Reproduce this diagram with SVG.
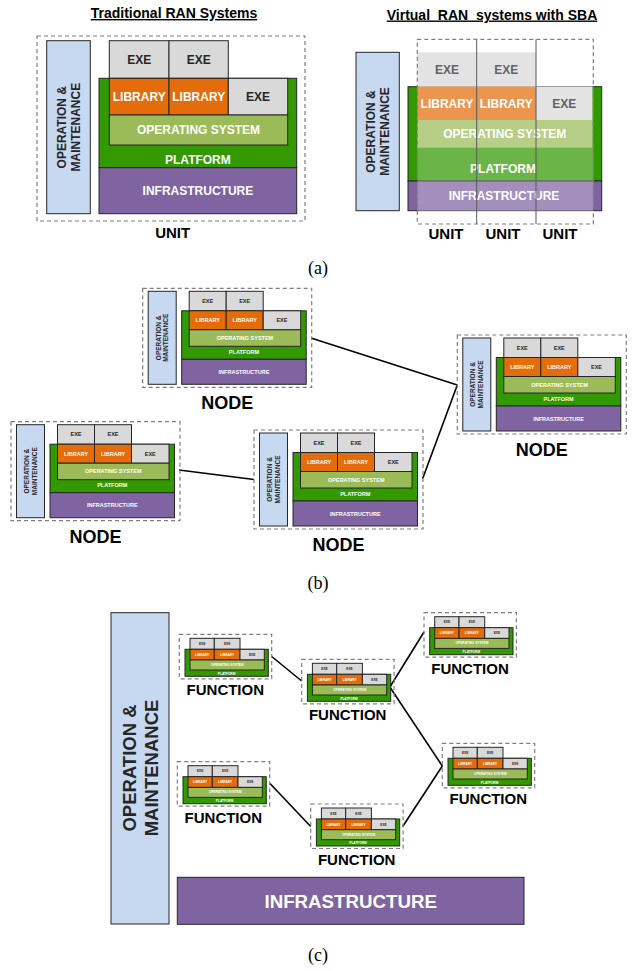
<svg xmlns="http://www.w3.org/2000/svg" xmlns:xlink="http://www.w3.org/1999/xlink" width="635" height="971" viewBox="0 0 635 971">
<style>
.om{fill:#c6d9f1;stroke:#262626;stroke-width:1}
.exe{fill:#d9d9d9;stroke:#262626;stroke-width:1}
.lib{fill:#e46c0a;stroke:#262626;stroke-width:1}
.os{fill:#9bbb59;stroke:#262626;stroke-width:1}
.plat{fill:#339900;stroke:#262626;stroke-width:1}
.inf{fill:#8064a2;stroke:#262626;stroke-width:1}
.nb{stroke:none}
.dash{fill:none;stroke:#7f7f7f;stroke-width:1.2;stroke-dasharray:4 3}
.t{font-family:"Liberation Sans",Arial,sans-serif;font-weight:bold;text-anchor:middle}
.w{fill:#ffffff}
.k{fill:#262626}
.cap{font-family:"Liberation Serif","Times New Roman",serif;font-size:18px;text-anchor:middle;fill:#000}
.conn{stroke:#000;stroke-width:1.6;fill:none}
.div{stroke:#595959;stroke-width:1}
</style>
<defs>
<g id="nodeT">
<rect class="dash" x="0" y="0" width="169" height="99"/>
<rect class="om" x="5.5" y="3" width="28" height="93"/>
<rect class="plat" x="39" y="22.5" width="124.5" height="48.5"/>
<rect class="inf" x="39" y="71" width="124.5" height="25"/>
<rect class="exe" x="46.5" y="3" width="37" height="19.5"/>
<rect class="exe" x="83.5" y="3" width="37" height="19.5"/>
<rect class="lib" x="46.5" y="22.5" width="37" height="19"/>
<rect class="lib" x="83.5" y="22.5" width="37" height="19"/>
<rect class="exe" x="120.5" y="22.5" width="37.5" height="19"/>
<rect class="os" x="46.5" y="41.5" width="111.5" height="16.5"/>
<g class="t" font-size="5.5">
<text class="k" x="65" y="14.7">EXE</text>
<text class="k" x="102" y="14.7">EXE</text>
<text class="w" x="65" y="34">LIBRARY</text>
<text class="w" x="102" y="34">LIBRARY</text>
<text class="k" x="139.25" y="34">EXE</text>
<text class="w" x="102.25" y="51.7">OPERATING SYSTEM</text>
<text class="w" x="101.25" y="65.5">PLATFORM</text>
<text class="w" x="101.25" y="85.5">INFRASTRUCTURE</text>
</g>
<text class="t k" font-size="6.5" transform="translate(19.5,49.5) rotate(-90)"><tspan x="0" y="-1.4">OPERATION &amp;</tspan><tspan x="0" y="6.1">MAINTENANCE</tspan></text>
<text class="t" font-size="18" fill="#000" x="84.5" y="121">NODE</text>
</g>
<g id="fnT">
<rect class="dash" x="0" y="0" width="92.4" height="44.5"/>
<rect class="plat" x="5.7" y="15" width="83.3" height="27"/>
<rect class="exe" x="10.7" y="4" width="24.3" height="11"/>
<rect class="exe" x="35" y="4" width="25.7" height="11"/>
<rect class="lib" x="10.7" y="15" width="24.3" height="10.7"/>
<rect class="lib" x="35" y="15" width="25.7" height="10.7"/>
<rect class="exe" x="60.7" y="15" width="24.3" height="10.7"/>
<rect class="os" x="10.7" y="25.7" width="74.3" height="10"/>
<g class="t" font-size="3.2">
<text class="k" x="22.85" y="10.6">EXE</text>
<text class="k" x="47.85" y="10.6">EXE</text>
<text class="w" x="22.85" y="21.5">LIBRARY</text>
<text class="w" x="47.85" y="21.5">LIBRARY</text>
<text class="k" x="72.85" y="21.5">EXE</text>
<text class="w" x="48" y="31.8">OPERATING SYSTEM</text>
<text class="w" x="47.3" y="40.3">PLATFORM</text>
</g>
<text class="t" font-size="15" fill="#000" x="46" y="61">FUNCTION</text>
</g>
</defs>

<!-- (a) left -->
<g id="title-trad">
<text class="t" font-size="14" fill="#000" x="174" y="18" text-decoration="underline">Traditional RAN Systems</text>
</g>
<g id="unit-trad">
<rect class="dash" x="37" y="36" width="268" height="185"/>
<rect class="om" x="46.7" y="40.7" width="43.6" height="173"/>
<rect class="plat" x="99" y="78.3" width="197.7" height="89.4"/>
<rect class="inf" x="99" y="167.7" width="197.7" height="46"/>
<rect class="exe" x="109.3" y="40.7" width="59.7" height="37.6"/>
<rect class="exe" x="169" y="40.7" width="59.3" height="37.6"/>
<rect class="lib" x="109.3" y="78.3" width="59.7" height="36.7"/>
<rect class="lib" x="169" y="78.3" width="59.3" height="36.7"/>
<rect class="exe" x="228.3" y="78.3" width="59.4" height="36.7"/>
<rect class="os" x="109.3" y="115" width="178.4" height="30"/>
<g class="t" font-size="12">
<text class="k" x="139.2" y="63.8">EXE</text>
<text class="k" x="198.7" y="63.8">EXE</text>
<text class="w" x="139.2" y="101">LIBRARY</text>
<text class="w" x="198.7" y="101">LIBRARY</text>
<text class="k" x="258" y="101">EXE</text>
<text class="w" x="198.5" y="134.3">OPERATING SYSTEM</text>
<text class="w" x="197.9" y="163.6">PLATFORM</text>
<text class="w" x="197.9" y="195.3">INFRASTRUCTURE</text>
</g>
<text class="t k" font-size="12" transform="translate(68.5,127.2) rotate(-90)"><tspan x="0" y="-2.7">OPERATION &amp;</tspan><tspan x="0" y="11.3">MAINTENANCE</tspan></text>
<text class="t" font-size="15" fill="#000" x="172.7" y="238.3">UNIT</text>
</g>

<!-- (a) right -->
<g id="title-virtual">
<text class="t" font-size="14" fill="#000" x="492" y="19.5" text-decoration="underline" style="white-space:pre">Virtual  RAN  systems with SBA</text>
</g>
<g id="units-virtual">
<rect class="om" x="356" y="52.3" width="43.3" height="158.4"/>
<text class="t k" font-size="12" transform="translate(377.7,131.5) rotate(-90)"><tspan x="0" y="-2.7">OPERATION &amp;</tspan><tspan x="0" y="11.3">MAINTENANCE</tspan></text>
<rect class="plat" x="408" y="86.7" width="193.7" height="94.3"/>
<rect class="inf" x="408" y="181" width="193.7" height="29.7"/>
<rect class="exe nb" x="417.3" y="52.3" width="59.4" height="34.4"/>
<rect class="exe nb" x="476.7" y="52.3" width="59.3" height="34.4"/>
<rect class="lib nb" x="417.3" y="86.7" width="59.4" height="33.3"/>
<rect class="lib nb" x="476.7" y="86.7" width="59.3" height="33.3"/>
<rect class="exe nb" x="536" y="86.7" width="56.3" height="33.3"/>
<rect class="os nb" x="417.3" y="120" width="175" height="27.7"/>
<g class="t" font-size="12">
<text class="k" x="447" y="73.8">EXE</text>
<text class="k" x="506.3" y="73.8">EXE</text>
<text class="w" x="447" y="107.6">LIBRARY</text>
<text class="w" x="506.3" y="107.6">LIBRARY</text>
<text class="k" x="564.2" y="107.6">EXE</text>
<text class="w" x="504.8" y="138.1">OPERATING SYSTEM</text>
<text class="w" x="503" y="172.8">PLATFORM</text>
<text class="w" x="504" y="199.8">INFRASTRUCTURE</text>
</g>
<rect x="417.3" y="39.3" width="176" height="184.7" fill="#ffffff" fill-opacity="0.28"/>
<line class="div" x1="476.7" y1="39.3" x2="476.7" y2="224"/>
<line class="div" x1="536" y1="39.3" x2="536" y2="224"/>
<rect class="dash" x="417.3" y="39.3" width="176" height="184.7"/>
<g class="t" font-size="15" fill="#000">
<text x="446" y="239.3">UNIT</text>
<text x="503" y="239.3">UNIT</text>
<text x="560" y="239.3">UNIT</text>
</g>
</g>
<text class="cap" x="318" y="274">(a)</text>

<!-- (b) -->
<g id="connectors-b">
<line class="conn" x1="311.7" y1="338.3" x2="457.3" y2="385"/>
<line class="conn" x1="179" y1="470" x2="254" y2="479.5"/>
<line class="conn" x1="422.7" y1="478.5" x2="457.3" y2="385"/>
</g>
<g id="node1" transform="translate(142.7,288.3)"><use xlink:href="#nodeT" href="#nodeT"/></g>
<g id="node2" transform="translate(11,421.7)"><use xlink:href="#nodeT" href="#nodeT"/></g>
<g id="node3" transform="translate(254,430)"><use xlink:href="#nodeT" href="#nodeT"/></g>
<g id="node4" transform="translate(457.3,335)"><use xlink:href="#nodeT" href="#nodeT"/></g>
<text class="cap" x="318" y="589">(b)</text>

<!-- (c) -->
<g id="om-c">
<rect class="om" x="111" y="612.7" width="58" height="311.3"/>
<text class="t k" font-size="18.5" transform="translate(140,768) rotate(-90)"><tspan x="0" y="-4.4">OPERATION &amp;</tspan><tspan x="0" y="17.6">MAINTENANCE</tspan></text>
</g>
<g id="infra-c">
<rect class="inf" x="177.3" y="877.3" width="346.7" height="47"/>
<text class="t w" font-size="18.7" x="350.7" y="907.5">INFRASTRUCTURE</text>
</g>
<g id="connectors-c">
<line class="conn" x1="271.7" y1="656.5" x2="301.7" y2="681"/>
<line class="conn" x1="390.5" y1="686" x2="424" y2="632"/>
<line class="conn" x1="390.5" y1="688" x2="442.3" y2="766"/>
<line class="conn" x1="270" y1="783.5" x2="310.7" y2="826.5"/>
<line class="conn" x1="402.7" y1="826.5" x2="442.3" y2="766"/>
</g>
<g id="func1" transform="translate(179.3,634.3)"><use xlink:href="#fnT" href="#fnT"/></g>
<g id="func2" transform="translate(301.7,659.3)"><use xlink:href="#fnT" href="#fnT"/></g>
<g id="func3" transform="translate(424,612.7)"><use xlink:href="#fnT" href="#fnT"/></g>
<g id="func4" transform="translate(442.3,743.3)"><use xlink:href="#fnT" href="#fnT"/></g>
<g id="func5" transform="translate(177.3,761.7)"><use xlink:href="#fnT" href="#fnT"/></g>
<g id="func6" transform="translate(310.7,804)"><use xlink:href="#fnT" href="#fnT"/></g>
<text class="cap" x="318" y="961">(c)</text>
</svg>
